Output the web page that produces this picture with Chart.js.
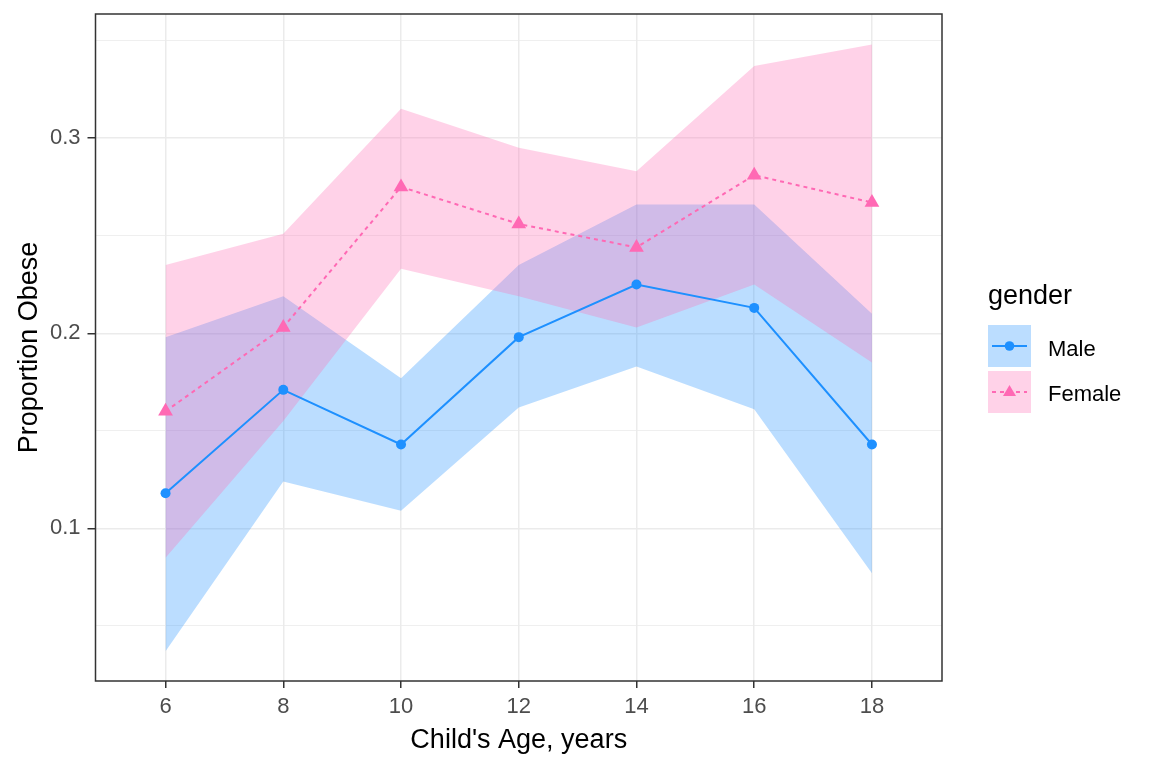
<!DOCTYPE html>
<html>
<head>
<meta charset="utf-8">
<script src="https://cdn.jsdelivr.net/npm/chart.js@4"></script>
<style>
  html, body { margin: 0; padding: 0; background: #fff; }
  #wrap { position: relative; width: 1152px; height: 768px; }
  canvas { position: absolute; left: 0; top: 0; }
  .lg { position: absolute; font-family: "Liberation Sans", Arial, sans-serif; color: #000; white-space: nowrap; }
</style>
</head>
<body>
<div id="wrap">
  <canvas id="c" width="1152" height="768"></canvas>
  <div class="lg" style="left:988px; top:282px; font-size:27px; line-height:27px;">gender</div>
  <svg class="lg" style="left:988px; top:325px;" width="43" height="88" viewBox="0 0 43 88">
    <rect x="0" y="0" width="43" height="42" fill="rgba(30,144,255,0.3)"/>
    <line x1="4" y1="21" x2="39" y2="21" stroke="#1E90FF" stroke-width="2"/>
    <circle cx="21.5" cy="21" r="4.8" fill="#1E90FF"/>
    <rect x="0" y="46" width="43" height="42" fill="rgba(255,105,180,0.3)"/>
    <line x1="4" y1="67" x2="39" y2="67" stroke="#FF69B4" stroke-width="2" stroke-dasharray="4,4"/>
    <polygon points="21.5,60 28,71 15,71" fill="#FF69B4"/>
  </svg>
  <div class="lg" style="left:1048px; top:336px; font-size:22px; line-height:26px;">Male</div>
  <div class="lg" style="left:1048px; top:381px; font-size:22px; line-height:26px;">Female</div>
</div>
<script>
const ages = [6, 8, 10, 12, 14, 16, 18];
const maleProp   = [0.118, 0.171, 0.143, 0.198, 0.225, 0.213, 0.143];
const maleLower  = [0.037, 0.124, 0.109, 0.162, 0.183, 0.161, 0.077];
const maleUpper  = [0.198, 0.219, 0.177, 0.235, 0.266, 0.266, 0.210];
const femaleProp  = [0.160, 0.203, 0.275, 0.256, 0.244, 0.281, 0.267];
const femaleLower = [0.085, 0.155, 0.233, 0.219, 0.203, 0.225, 0.185];
const femaleUpper = [0.235, 0.251, 0.315, 0.295, 0.283, 0.337, 0.348];
const xTicks = [6, 8, 10, 12, 14, 16, 18];
const yTicks = [0.05, 0.1, 0.15, 0.2, 0.25, 0.3, 0.35];
const yMajor = [0.1, 0.2, 0.3];

const pts = arr => ages.map((a, i) => ({x: a, y: arr[i]}));
const isMajorY = v => yMajor.some(m => Math.abs(m - v) < 1e-9);

const FONT = '"Liberation Sans", Arial, sans-serif';

const ribbon = (data, fill, color, order) => ({
  data: pts(data), fill: fill, backgroundColor: color,
  borderColor: 'rgba(0,0,0,0)', borderWidth: 0, pointRadius: 0, order: order, tension: 0
});

const borderPlugin = {
  id: 'panelBorder',
  afterDraw(chart) {
    const {ctx, chartArea: a} = chart;
    ctx.save();
    ctx.strokeStyle = '#333333';
    ctx.lineWidth = 1.5;
    ctx.strokeRect(a.left, a.top, a.right - a.left, a.bottom - a.top);
    ctx.restore();
  }
};

new Chart(document.getElementById('c'), {
  type: 'line',
  data: {
    datasets: [
      ribbon(maleLower, false, 'rgba(0,0,0,0)', 10),
      ribbon(maleUpper, '-1', 'rgba(30,144,255,0.3)', 9),
      ribbon(femaleLower, false, 'rgba(0,0,0,0)', 8),
      ribbon(femaleUpper, '-1', 'rgba(255,105,180,0.3)', 7),
      {
        label: 'Male', data: pts(maleProp), borderColor: '#1E90FF', backgroundColor: '#1E90FF',
        borderWidth: 2, pointRadius: 5, pointStyle: 'circle', pointBorderWidth: 0,
        fill: false, order: 2, tension: 0
      },
      {
        label: 'Female', data: pts(femaleProp), borderColor: '#FF69B4', backgroundColor: '#FF69B4',
        borderWidth: 2, borderDash: [4, 4], pointRadius: 8.5, pointStyle: 'triangle', pointBorderWidth: 0,
        fill: false, order: 1, tension: 0
      }
    ]
  },
  options: {
    responsive: false,
    animation: false,
    events: [],
    layout: { padding: { top: 14, right: 210, left: 0, bottom: 0 } },
    plugins: { legend: { display: false }, tooltip: { enabled: false } },
    scales: {
      x: {
        type: 'linear', min: 4.81, max: 19.19,
        afterBuildTicks: s => { s.ticks = xTicks.map(v => ({value: v})); },
        afterFit: s => { s.height = 87; s.paddingLeft = 0; s.paddingRight = 0; },
        border: { display: false },
        grid: { color: '#EBEBEB', lineWidth: 1.5, drawTicks: true, tickLength: 7, tickColor: '#333333', tickWidth: 1.5 },
        ticks: { color: '#4D4D4D', font: { family: FONT, size: 22 }, padding: 6, maxRotation: 0, autoSkip: false },
        title: { display: true, text: "Child's Age, years", color: '#000', font: { family: FONT, size: 27 }, padding: { top: 0, bottom: 11 } }
      },
      y: {
        type: 'linear', min: 0.0218, max: 0.3636,
        afterBuildTicks: s => { s.ticks = yTicks.map(v => ({value: v})); },
        afterFit: s => { s.width = 95.5; s.paddingTop = 0; s.paddingBottom = 0; },
        border: { display: false },
        grid: {
          color: '#EBEBEB',
          lineWidth: c => (c.tick && isMajorY(c.tick.value)) ? 1.5 : 0.8,
          drawTicks: true, tickLength: 8,
          tickColor: c => (c.tick && isMajorY(c.tick.value)) ? '#333333' : 'rgba(0,0,0,0)',
          tickWidth: 1.5
        },
        ticks: {
          color: '#4D4D4D', font: { family: FONT, size: 22 }, padding: 7, autoSkip: false,
          callback: v => isMajorY(v) ? v.toFixed(1) : ''
        },
        title: { display: true, text: 'Proportion Obese', color: '#000', font: { family: FONT, size: 27 }, padding: { top: 13, bottom: 0 } }
      }
    }
  },
  plugins: [borderPlugin]
});
</script>
</body>
</html>
